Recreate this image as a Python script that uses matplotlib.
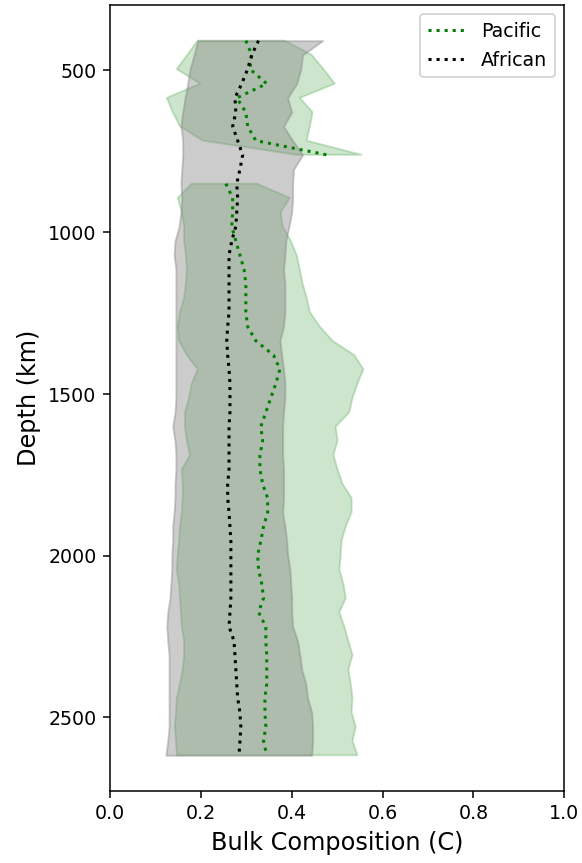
import matplotlib
matplotlib.use('Agg')
import matplotlib.pyplot as plt
import numpy as np

nan = np.nan

# depth samples (km)
depth = [408, 452, 496, 541, 585, 629, 673, 717, 761, 806,
         850, 894, 938, 982, 1027, 1071, 1115, 1159, 1203, 1247,
         1292, 1336, 1380, 1424, 1468, 1512, 1557, 1601, 1645, 1689,
         1733, 1778, 1822, 1866, 1910, 1954, 1998, 2043, 2087, 2131,
         2175, 2219, 2264, 2308, 2352, 2396, 2440, 2484, 2529, 2573,
         2617]

# African LLSVP: median and spread of bulk composition
afr_mid = [0.327, 0.312, 0.303, 0.290, 0.275, 0.277, 0.270, 0.281, 0.292, 0.286,
           0.279, 0.281, 0.279, 0.277, 0.268, 0.262, 0.262, 0.262, 0.262, 0.262,
           0.259, 0.257, 0.259, 0.262, 0.264, 0.264, 0.264, 0.262, 0.262, 0.262,
           0.262, 0.259, 0.259, 0.262, 0.264, 0.266, 0.266, 0.266, 0.266, 0.266,
           0.264, 0.262, 0.273, 0.275, 0.277, 0.279, 0.281, 0.286, 0.288, 0.286,
           0.284]
afr_low = [0.193, 0.185, 0.176, 0.171, 0.165, 0.160, 0.156, 0.160, 0.160, 0.158,
           0.156, 0.158, 0.156, 0.152, 0.143, 0.141, 0.145, 0.145, 0.145, 0.145,
           0.145, 0.145, 0.145, 0.145, 0.145, 0.145, 0.143, 0.138, 0.143, 0.145,
           0.145, 0.143, 0.143, 0.141, 0.138, 0.138, 0.136, 0.136, 0.134, 0.132,
           0.127, 0.125, 0.127, 0.130, 0.130, 0.130, 0.130, 0.130, 0.130, 0.127,
           0.123]
afr_high = [0.468, 0.424, 0.420, 0.411, 0.391, 0.400, 0.382, 0.402, 0.424, 0.404,
            0.402, 0.402, 0.400, 0.394, 0.387, 0.385, 0.382, 0.385, 0.385, 0.385,
            0.382, 0.374, 0.378, 0.382, 0.385, 0.385, 0.382, 0.380, 0.380, 0.380,
            0.382, 0.382, 0.382, 0.380, 0.385, 0.389, 0.391, 0.396, 0.398, 0.400,
            0.400, 0.402, 0.413, 0.418, 0.422, 0.431, 0.435, 0.444, 0.446, 0.446,
            0.444]

# Pacific LLSVP (no estimate at ~806 km)
pac_mid = [0.299, 0.312, 0.308, 0.345, 0.279, 0.299, 0.303, 0.321, 0.477, nan,
           0.255, 0.270, 0.270, 0.268, 0.277, 0.286, 0.295, 0.299, 0.299, 0.299,
           0.303, 0.321, 0.360, 0.374, 0.365, 0.354, 0.343, 0.332, 0.336, 0.330,
           0.330, 0.336, 0.347, 0.347, 0.338, 0.332, 0.325, 0.327, 0.334, 0.338,
           0.327, 0.343, 0.343, 0.345, 0.345, 0.345, 0.341, 0.341, 0.343, 0.338,
           0.345]
pac_low = [0.193, 0.170, 0.147, 0.198, 0.125, 0.138, 0.154, 0.204, 0.410, nan,
           0.180, 0.149, 0.158, 0.163, 0.163, 0.167, 0.169, 0.167, 0.163, 0.154,
           0.149, 0.152, 0.169, 0.193, 0.180, 0.174, 0.165, 0.165, 0.169, 0.176,
           0.158, 0.160, 0.160, 0.158, 0.154, 0.152, 0.149, 0.147, 0.152, 0.154,
           0.156, 0.158, 0.163, 0.163, 0.160, 0.154, 0.147, 0.145, 0.143, 0.145,
           0.147]
pac_high = [0.385, 0.444, 0.470, 0.495, 0.418, 0.446, 0.440, 0.433, 0.554, nan,
            0.323, 0.396, 0.376, 0.380, 0.398, 0.411, 0.418, 0.424, 0.433, 0.440,
            0.462, 0.490, 0.538, 0.558, 0.545, 0.534, 0.527, 0.497, 0.501, 0.492,
            0.501, 0.512, 0.532, 0.532, 0.519, 0.510, 0.508, 0.505, 0.514, 0.519,
            0.505, 0.516, 0.525, 0.534, 0.525, 0.530, 0.534, 0.532, 0.541, 0.534,
            0.545]

fig = plt.figure(figsize=(4.25, 6.3), dpi=137)
ax = fig.add_axes([0.189, 0.0834, 0.780, 0.9108])

ax.fill_betweenx(depth, pac_low, pac_high, color='green', alpha=0.2)
ax.plot(pac_mid, depth, ':', color='green', lw=1.6, label='Pacific')
ax.fill_betweenx(depth, afr_low, afr_high, color='gray', alpha=0.4)
ax.plot(afr_mid, depth, ':', color='black', lw=1.6, label='African')

ax.set_xlim(0, 1)
ax.invert_yaxis()
ax.set_xlabel('Bulk Composition (C)', fontsize=12.6)
ax.set_ylabel('Depth (km)', fontsize=12.6)
ax.legend(loc='upper right')

fig.savefig('out.png', dpi=137)
